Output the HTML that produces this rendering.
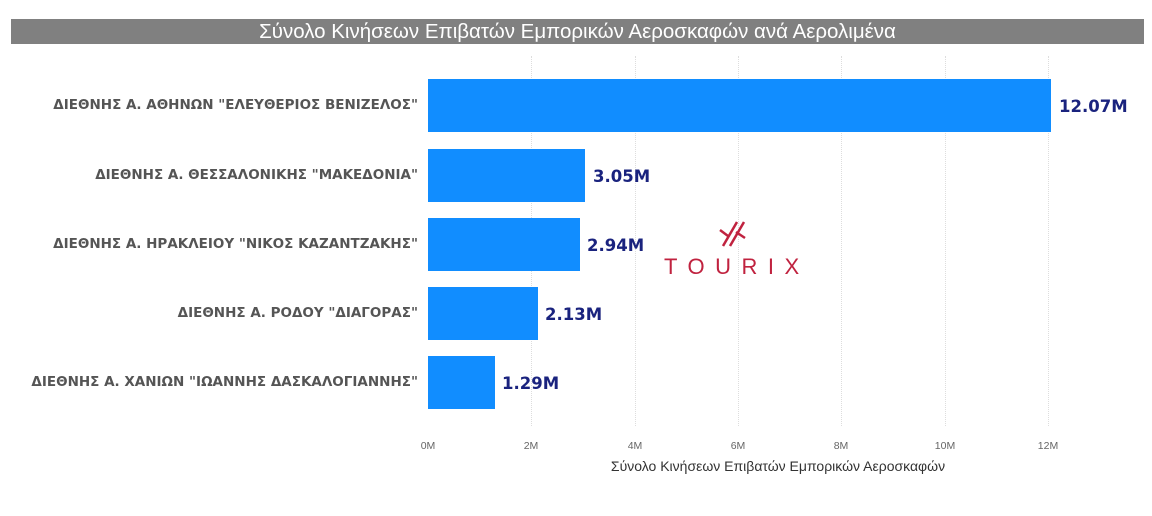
<!DOCTYPE html>
<html><head><meta charset="utf-8"><style>
body{margin:0;width:1152px;height:516px;background:#fff;position:relative;overflow:hidden;font-family:"Liberation Sans","DejaVu Sans",sans-serif}
.t{position:absolute;left:11px;top:19px;width:1133px;height:25px;background:#808080;color:#fff;font-size:20.5px;line-height:25px;text-align:center}
.g{position:absolute;top:56px;height:370px;border-left:1px dotted #ddd}
.b{position:absolute;left:428px;height:53px;background:#118dff}
.l{position:absolute;right:734px;font-size:13.5px;font-weight:bold;color:#555;font-family:"DejaVu Sans",sans-serif;white-space:nowrap}
.v{position:absolute;font-size:16.5px;font-weight:bold;color:#1a237e;font-family:"DejaVu Sans",sans-serif}
.k{position:absolute;top:440px;font-size:10.5px;color:#666;transform:translateX(-50%)}
</style></head><body>
<div class="t">Σύνολο Κινήσεων Επιβατών Εμπορικών Αεροσκαφών ανά Αερολιμένα</div>
<div class="g" style="left:531px"></div><div class="g" style="left:635px"></div><div class="g" style="left:738px"></div><div class="g" style="left:841px"></div><div class="g" style="left:945px"></div><div class="g" style="left:1048px"></div>
<div class="b" style="top:79px;width:623px"></div>
<div class="b" style="top:149px;width:157px"></div>
<div class="b" style="top:218px;width:152px"></div>
<div class="b" style="top:287px;width:110px"></div>
<div class="b" style="top:356px;width:67px"></div>
<div class="l" style="top:97px">ΔΙΕΘΝΗΣ Α. ΑΘΗΝΩΝ "ΕΛΕΥΘΕΡΙΟΣ ΒΕΝΙΖΕΛΟΣ"</div>
<div class="l" style="top:167px">ΔΙΕΘΝΗΣ Α. ΘΕΣΣΑΛΟΝΙΚΗΣ "ΜΑΚΕΔΟΝΙΑ"</div>
<div class="l" style="top:236px">ΔΙΕΘΝΗΣ Α. ΗΡΑΚΛΕΙΟΥ "ΝΙΚΟΣ ΚΑΖΑΝΤΖΑΚΗΣ"</div>
<div class="l" style="top:305px">ΔΙΕΘΝΗΣ Α. ΡΟΔΟΥ "ΔΙΑΓΟΡΑΣ"</div>
<div class="l" style="top:374px">ΔΙΕΘΝΗΣ Α. ΧΑΝΙΩΝ "ΙΩΑΝΝΗΣ ΔΑΣΚΑΛΟΓΙΑΝΝΗΣ"</div>
<div class="v" style="left:1059px;top:97px">12.07M</div>
<div class="v" style="left:593px;top:167px">3.05M</div>
<div class="v" style="left:587px;top:236px">2.94M</div>
<div class="v" style="left:545px;top:305px">2.13M</div>
<div class="v" style="left:502px;top:374px">1.29M</div>
<div class="k" style="left:428px">0M</div><div class="k" style="left:531px">2M</div><div class="k" style="left:635px">4M</div><div class="k" style="left:738px">6M</div><div class="k" style="left:841px">8M</div><div class="k" style="left:945px">10M</div><div class="k" style="left:1048px">12M</div>
<div style="position:absolute;left:528px;width:500px;top:458px;text-align:center;font-size:14px;color:#333">Σύνολο Κινήσεων Επιβατών Εμπορικών Αεροσκαφών</div>
<svg style="position:absolute;left:718px;top:220px" width="30" height="28"><g stroke="#c0223f" stroke-width="2.5" fill="none"><line x1="5" y1="26" x2="19" y2="2"/><line x1="12" y1="26" x2="26" y2="2"/><line x1="2" y1="10" x2="10" y2="16"/><line x1="18" y1="12" x2="27" y2="18"/></g></svg>
<div style="position:absolute;left:664px;top:254px;font-size:22px;color:#c0223f;letter-spacing:10.5px">TOURIX</div>
</body></html>
